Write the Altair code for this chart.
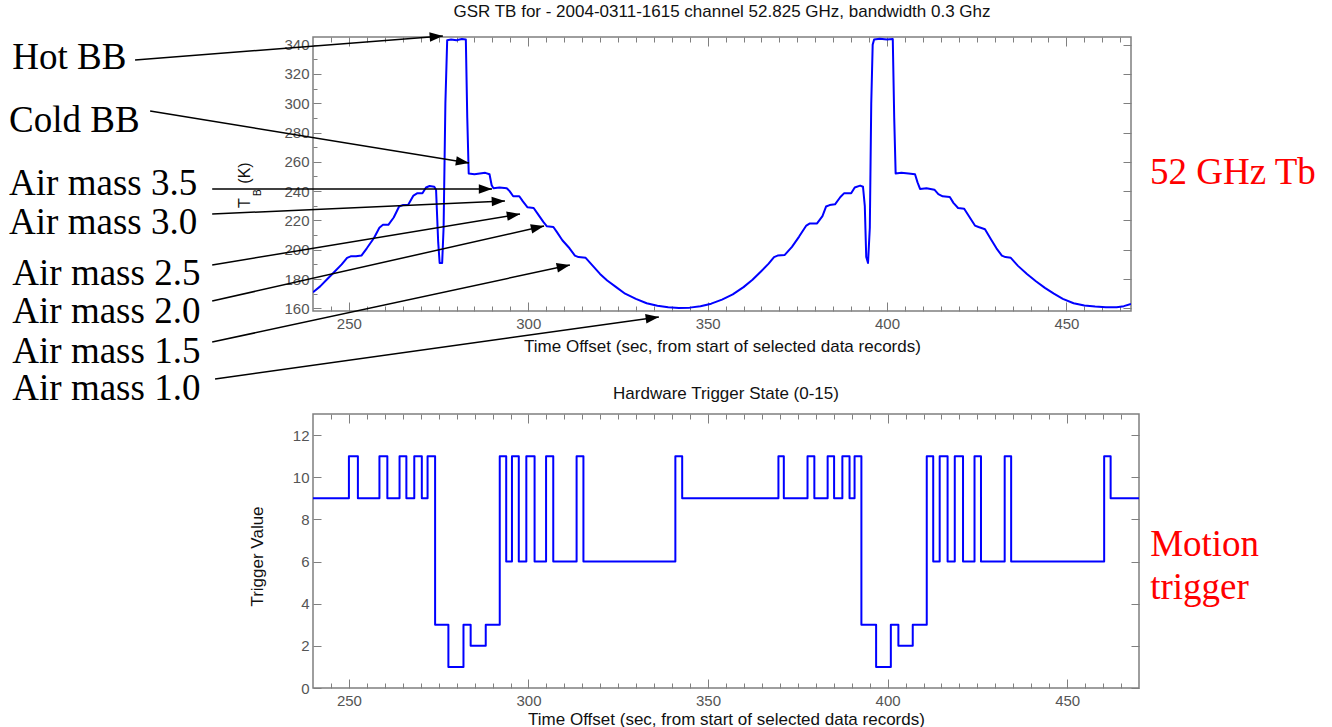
import math
import altair as alt
import pandas as pd

# ---------------- data ----------------
# Top panel: brightness temperature (K) vs time offset (s)
tb_time = [
    240, 242, 244, 246, 248, 249.5, 250.5, 252, 253.5, 255,
    257, 258.5, 259.5, 261, 262.5, 264, 265, 266.5, 268, 269,
    270.5, 271.5, 272.5, 273.8, 274.3, 274.9, 275.3, 276.0, 276.4, 276.9,
    277.4, 278.5, 280, 281.5, 282.6, 283.0, 283.4, 285, 286.5, 288,
    289.2, 289.8, 290.3, 292, 294, 294.8, 295.8, 297.5, 298.5, 299.8,
    301.5, 302.5, 304.2, 305.2, 307, 308, 309.5, 311.5, 313, 314,
    316, 318, 320, 322, 324.5, 327, 330, 333, 336, 339,
    342, 345, 348, 351, 354, 357, 360, 362.5, 365, 367,
    368.5, 369.5, 371.5, 373.5, 375.5, 377.5, 378.5, 380.5, 382, 383,
    384, 385.5, 387, 388, 390, 391, 392.5, 393.3, 393.8, 394.2,
    394.7, 395.2, 395.6, 396.0, 396.4, 398, 400, 401.6, 402.0, 402.4,
    404, 406, 407.8, 408.5, 409.2, 411, 413.2, 414.3, 415.5, 417.5,
    418.5, 419.8, 421.5, 422.8, 424.5, 425.5, 427.3, 429, 430.5, 432,
    433, 434.5, 436.5, 439, 441.5, 444, 446.5, 449, 452, 455,
    458, 461, 464, 466, 468,
]
tb_kelvin = [
    171, 175, 180, 185, 190, 194.5, 195.5, 195.5, 196, 201,
    208, 215, 217, 217, 222, 229.5, 230.5, 230.5, 237, 238.5,
    238.5, 242.5, 243.5, 243, 241, 205, 191, 191, 215, 300,
    343, 343.5, 343, 343.8, 343.5, 290, 252, 251.5, 252, 252.5,
    251.5, 244, 242, 242.5, 242, 240, 236.5, 236.5, 233, 229,
    228.5, 225, 219, 216, 215.5, 212, 206.5, 201, 196, 195,
    194.5, 189, 183.5, 179, 174.5, 170, 166.5, 163.5, 161.8, 160.8,
    160.3, 160.5, 161.5, 163.2, 166, 169.5, 174.5, 179.5, 185.5, 190.5,
    195, 196, 196.5, 202, 209, 216.5, 218, 218, 223, 229.5,
    230.5, 231, 236, 238.5, 238.5, 242.5, 243.8, 243, 230, 195,
    191, 215, 300, 340, 343.5, 344, 343.5, 343.8, 290, 252,
    252.5, 252, 251.5, 246, 241.5, 242, 241, 238, 236.5, 236,
    232, 228.5, 228, 223, 216.5, 215.5, 214, 207, 201, 196,
    195, 194.5, 189, 183.5, 178.5, 174, 170, 166.5, 163.5, 162,
    161.2, 160.7, 160.8, 161.5, 163,
]

# Bottom panel: hardware trigger state (step changes)
trig_time = [
    240, 250.0, 252.5, 258.5, 260.7, 264.1, 266.0, 268.2, 270.3, 271.9,
    274.0, 277.7, 281.9, 283.9, 288.1, 292.0, 293.8, 295.4, 297.3, 299.4,
    301.7, 304.9, 306.9, 313.4, 315.3, 340.9, 342.8, 369.6, 371.1, 377.7,
    379.6, 383.3, 385.1, 387.4, 389.4, 390.8, 392.7, 396.8, 400.9, 403.0,
    407.0, 410.9, 412.7, 414.5, 416.7, 418.7, 421.0, 424.2, 426.0, 432.6,
    434.4, 460.3, 462.1, 470,
]
trig_value = [
    9, 11, 9, 11, 9, 11, 9, 11, 9, 11,
    3, 1, 3, 2, 3, 11, 6, 11, 6, 11,
    6, 11, 6, 11, 6, 11, 9, 11, 9, 11,
    9, 11, 9, 11, 9, 11, 3, 1, 3, 2,
    3, 11, 6, 11, 6, 11, 6, 11, 6, 11,
    6, 11, 9, 9,
]

# axis tick values
x_label_values = [250, 300, 350, 400, 450]
x_tick_values = list(range(245, 470, 5))
tb_label_values = list(range(160, 341, 20))
tb_tick_values = list(range(160, 346, 10))
trig_label_values = list(range(0, 13, 2))

# annotations (placed in the top panel's data space)
ann_text = ["Hot BB", "Cold BB", "Air mass 3.5", "Air mass 3.0",
            "Air mass 2.5", "Air mass 2.0", "Air mass 1.5", "Air mass 1.0"]
ann_text_t = [156.2, 155.3, 155.3, 155.3, 156.2, 156.2, 156.2, 156.2]
ann_text_k = [323.4, 280.4, 237.4, 210.8, 175.9, 150.0, 122.7, 97.5]
arrow_from_t = [190.4, 194.6, 211.9, 211.9, 211.9, 211.9, 211.9, 212.7]
arrow_from_k = [329.5, 294.7, 241.5, 224.4, 189.6, 165.0, 137.0, 111.8]
arrow_to_t = [276.2, 283.5, 289.9, 293.5, 297.7, 304.4, 311.6, 336.4]
arrow_to_k = [345.9, 259.2, 241.5, 233.3, 224.4, 216.2, 189.6, 154.1]

side_text_top = ["52 GHz Tb"]
side_text_top_t = [473.3]
side_text_top_k = [244.9]
side_text_bot = ["Motion", "trigger"]
side_text_bot_t = [473.1, 473.1]
side_text_bot_v = [6.26, 4.22]

ytitle_parts = ["T", "B", "(K)"]
ytitle_t = [222.4, 225.4, 222.4]
ytitle_k = [231.9, 238.9, 252.4]
ytitle_size = [16, 10, 16]

# ---------------- styling ----------------
FONT = "Liberation Sans"
SERIF = "Liberation Serif"
FRAME = "#7f7f7f"
LABEL = "#555555"
INK = "#111111"
BLUE = "#0000ff"

TOP_W, TOP_H = 818, 274
BOT_W, BOT_H = 826, 274
TOP_X = [240, 468]
TOP_Y = [158.2, 345.2]
BOT_X = [240, 470]
BOT_Y = [0, 13]

x_top = alt.Scale(domain=TOP_X, nice=False, zero=False)
y_top = alt.Scale(domain=TOP_Y, nice=False, zero=False)
x_bot = alt.Scale(domain=BOT_X, nice=False, zero=False)
y_bot = alt.Scale(domain=BOT_Y, nice=False, zero=False)

XTITLE = "Time Offset (sec, from start of selected data records)"


def x_tick_size():
    return {"condition": {"test": "datum.value % 50 === 0", "value": 9}, "value": 5}


def label_x_axis(title_y):
    return alt.Axis(orient="bottom", values=x_label_values, grid=False, ticks=False,
                    domain=False, labelFont=FONT, labelFontSize=15, labelColor=LABEL,
                    labelPadding=5, title=XTITLE, titleFont=FONT, titleFontSize=17,
                    titleFontWeight="normal", titleColor=INK,
                    titleBaseline="alphabetic", titleY=title_y)


def tick_axis(orient, offset, values, size, color=FRAME):
    return alt.Axis(orient=orient, offset=offset, values=values, labels=False,
                    domain=False, grid=False, title=None, tickColor=color,
                    tickWidth=1, tickSize=size)


# ---------------- top panel ----------------
tb_df = pd.DataFrame({"t": tb_time, "k": tb_kelvin})

top_line = alt.Chart(tb_df).mark_line(color=BLUE, strokeWidth=2, clip=True,
                                      strokeJoin="round").encode(
    x=alt.X("t:Q", scale=x_top, axis=label_x_axis(40)),
    y=alt.Y("k:Q", scale=y_top,
            axis=alt.Axis(orient="left", values=tb_label_values, grid=False, ticks=False,
                          domain=False, labelFont=FONT, labelFontSize=15,
                          labelColor=LABEL, labelPadding=4, title=None)),
)

top_ticks_a = alt.Chart(tb_df).mark_line(opacity=0).encode(
    x=alt.X("t:Q", scale=x_top, axis=tick_axis("top", -TOP_H, x_tick_values, x_tick_size())),
    y=alt.Y("k:Q", scale=y_top, axis=tick_axis(
        "right", -TOP_W, tb_tick_values,
        {"condition": {"test": "datum.value % 20 === 0", "value": 8}, "value": 4})),
)
top_ticks_b = alt.Chart(tb_df).mark_line(opacity=0).encode(
    x=alt.X("t:Q", scale=x_top, axis=tick_axis("bottom", -TOP_H, x_tick_values, x_tick_size())),
    y=alt.Y("k:Q", scale=y_top, axis=tick_axis("left", -TOP_W, tb_label_values, 8)),
)

px_per_t = TOP_W / (TOP_X[1] - TOP_X[0])
px_per_k = TOP_H / (TOP_Y[1] - TOP_Y[0])
arrow_df = pd.DataFrame({
    "t0": arrow_from_t, "k0": arrow_from_k, "t1": arrow_to_t, "k1": arrow_to_k,
})
arrow_df["ang"] = [
    math.degrees(math.atan2(-(b1 - b0) * px_per_k, (a1 - a0) * px_per_t)) % 360
    for a0, b0, a1, b1 in zip(arrow_from_t, arrow_from_k, arrow_to_t, arrow_to_k)
]

arrows = alt.Chart(arrow_df).mark_rule(color="black", strokeWidth=1.5).encode(
    x=alt.X("t0:Q", scale=x_top, axis=None), y=alt.Y("k0:Q", scale=y_top, axis=None),
    x2="t1:Q", y2="k1:Q",
)
heads = alt.Chart(arrow_df).mark_point(
    shape="M0,0 L-1,-0.36 L-1,0.36 Z", filled=True, color="black", opacity=1, size=700,
).encode(
    x=alt.X("t1:Q", scale=x_top, axis=None), y=alt.Y("k1:Q", scale=y_top, axis=None),
    angle=alt.Angle("ang:Q", scale=None),
)

ann_df = pd.DataFrame({"t": ann_text_t, "k": ann_text_k, "label": ann_text})
ann_labels = alt.Chart(ann_df).mark_text(
    font=SERIF, fontSize=37, align="left", baseline="alphabetic", color="black",
).encode(
    x=alt.X("t:Q", scale=x_top, axis=None), y=alt.Y("k:Q", scale=y_top, axis=None),
    text="label:N",
)

red_top_df = pd.DataFrame({"t": side_text_top_t, "k": side_text_top_k, "label": side_text_top})
red_top = alt.Chart(red_top_df).mark_text(
    font=SERIF, fontSize=37, align="left", baseline="alphabetic", color="#ff0000",
).encode(
    x=alt.X("t:Q", scale=x_top, axis=None), y=alt.Y("k:Q", scale=y_top, axis=None),
    text="label:N",
)

yt_df = pd.DataFrame({"t": ytitle_t, "k": ytitle_k, "label": ytitle_parts, "fs": ytitle_size})
ytitle = alt.Chart(yt_df).mark_text(
    font=FONT, angle=270, align="center", baseline="alphabetic", color=INK,
).encode(
    x=alt.X("t:Q", scale=x_top, axis=None), y=alt.Y("k:Q", scale=y_top, axis=None),
    text="label:N", size=alt.Size("fs:Q", scale=None),
)

top = alt.layer(
    top_ticks_a, top_ticks_b, top_line, arrows, heads, ann_labels, red_top, ytitle,
).resolve_axis(x="independent", y="independent").properties(
    width=TOP_W, height=TOP_H,
    title=alt.TitleParams(
        text="GSR TB for - 2004-0311-1615 channel 52.825 GHz, bandwidth 0.3 Ghz",
        font=FONT, fontSize=17, fontWeight="normal", color=INK, offset=-2,
        frame="group", baseline="alphabetic", anchor="middle"),
)

# ---------------- bottom panel ----------------
trig_df = pd.DataFrame({"t": trig_time, "v": trig_value})

bot_line = alt.Chart(trig_df).mark_line(color=BLUE, strokeWidth=2, interpolate="step-after",
                                        strokeJoin="round", clip=True).encode(
    x=alt.X("t:Q", scale=x_bot, axis=label_x_axis(36)),
    y=alt.Y("v:Q", scale=y_bot,
            axis=alt.Axis(orient="left", values=trig_label_values, grid=False, ticks=False,
                          domain=False, labelFont=FONT, labelFontSize=15,
                          labelColor=LABEL, labelPadding=4, title="Trigger Value",
                          titleFont=FONT, titleFontSize=17, titleFontWeight="normal",
                          titleColor=INK, titleAngle=270, titleBaseline="middle",
                          titleAlign="center", titleX=-56, titleY=142)),
)
bot_ticks_a = alt.Chart(trig_df).mark_line(opacity=0).encode(
    x=alt.X("t:Q", scale=x_bot, axis=tick_axis("top", -BOT_H, x_tick_values, x_tick_size())),
    y=alt.Y("v:Q", scale=y_bot, axis=tick_axis("right", -BOT_W, trig_label_values, 8)),
)
bot_ticks_b = alt.Chart(trig_df).mark_line(opacity=0).encode(
    x=alt.X("t:Q", scale=x_bot, axis=tick_axis("bottom", -BOT_H, x_tick_values, x_tick_size())),
    y=alt.Y("v:Q", scale=y_bot, axis=tick_axis("left", -BOT_W, trig_label_values, 8)),
)
red_bot_df = pd.DataFrame({"t": side_text_bot_t, "v": side_text_bot_v, "label": side_text_bot})
red_bot = alt.Chart(red_bot_df).mark_text(
    font=SERIF, fontSize=37, align="left", baseline="alphabetic", color="#ff0000",
).encode(
    x=alt.X("t:Q", scale=x_bot, axis=None), y=alt.Y("v:Q", scale=y_bot, axis=None),
    text="label:N",
)

bottom = alt.layer(
    bot_ticks_a, bot_ticks_b, bot_line, red_bot,
).resolve_axis(x="independent", y="independent").properties(
    width=BOT_W, height=BOT_H,
    title=alt.TitleParams(
        text="Hardware Trigger State (0-15)",
        font=FONT, fontSize=17, fontWeight="normal", color=INK, offset=-2,
        frame="group", baseline="alphabetic", anchor="middle"),
)

chart = alt.vconcat(top, bottom, spacing=103, bounds="flush").properties(
    padding={"left": 8, "top": 2, "right": 0, "bottom": 0},
    background="white",
).configure_view(stroke=FRAME, strokeWidth=1.5)

chart.save("out.html", embed_options={"renderer": "svg", "actions": False})
